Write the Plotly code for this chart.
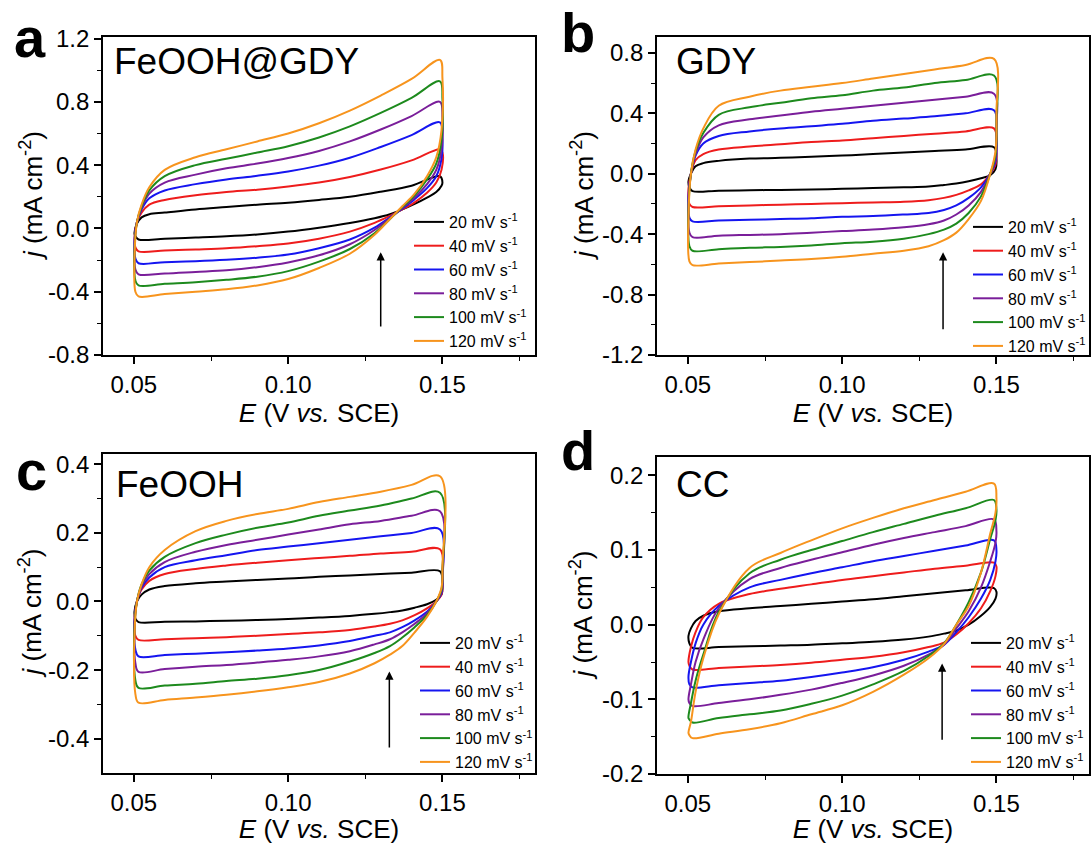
import plotly.graph_objects as go

FONT = "Liberation Sans, Arial, sans-serif"
W, H = 1091, 844

# ---------------- data ----------------
rates = ["20 mV s<sup>-1</sup>", "40 mV s<sup>-1</sup>", "60 mV s<sup>-1</sup>",
         "80 mV s<sup>-1</sup>", "100 mV s<sup>-1</sup>", "120 mV s<sup>-1</sup>"]
colors = ["#000000", "#ee1c1c", "#1515f0", "#7a1e9a", "#1d8a1d", "#f7941d"]

# potentials of the anodic (forward) and cathodic (reverse) sweeps, V vs. SCE
E_fwd = [0.0502, 0.0510, 0.0525, 0.055, 0.060, 0.070, 0.080, 0.090, 0.100,
         0.110, 0.120, 0.130, 0.140, 0.1492]
E_rev = [0.1500, 0.1497, 0.148, 0.145, 0.141, 0.137, 0.133, 0.128, 0.120,
         0.110, 0.100, 0.090, 0.080, 0.070, 0.060, 0.0515, 0.0505]

# (a) FeOOH@GDY, mA cm-2, one row per scan rate (20 ... 120 mV s-1)
fegdy_fwd = [
    [-0.03, 0.03, 0.07, 0.09, 0.10, 0.12, 0.135, 0.15, 0.163, 0.18, 0.20, 0.232, 0.27, 0.33],
    [-0.06, 0.04, 0.10, 0.15, 0.18, 0.21, 0.23, 0.245, 0.265, 0.29, 0.325, 0.372, 0.43, 0.50],
    [-0.09, 0.04, 0.12, 0.19, 0.24, 0.28, 0.31, 0.333, 0.36, 0.397, 0.447, 0.515, 0.59, 0.67],
    [-0.12, 0.04, 0.13, 0.22, 0.29, 0.34, 0.38, 0.41, 0.445, 0.49, 0.55, 0.625, 0.71, 0.80],
    [-0.15, 0.04, 0.14, 0.24, 0.33, 0.40, 0.44, 0.48, 0.52, 0.575, 0.645, 0.73, 0.825, 0.93],
    [-0.20, 0.04, 0.15, 0.26, 0.37, 0.45, 0.50, 0.55, 0.60, 0.665, 0.745, 0.84, 0.945, 1.065],
]
fegdy_rev = [
    [0.29, 0.27, 0.23, 0.195, 0.155, 0.12, 0.09, 0.065, 0.035, 0.005, -0.02, -0.038, -0.05, -0.058, -0.065, -0.07, -0.05],
    [0.48, 0.37, 0.29, 0.225, 0.165, 0.12, 0.08, 0.035, -0.02, -0.065, -0.095, -0.112, -0.125, -0.133, -0.14, -0.145, -0.12],
    [0.57, 0.44, 0.33, 0.255, 0.185, 0.125, 0.07, 0.005, -0.07, -0.125, -0.165, -0.185, -0.198, -0.207, -0.213, -0.22, -0.19],
    [0.70, 0.50, 0.37, 0.28, 0.195, 0.13, 0.065, -0.01, -0.10, -0.17, -0.215, -0.245, -0.265, -0.275, -0.285, -0.29, -0.26],
    [0.82, 0.56, 0.41, 0.31, 0.21, 0.135, 0.06, -0.03, -0.13, -0.21, -0.27, -0.305, -0.325, -0.34, -0.35, -0.36, -0.33],
    [0.95, 0.62, 0.45, 0.33, 0.22, 0.14, 0.06, -0.04, -0.16, -0.25, -0.32, -0.36, -0.385, -0.40, -0.415, -0.43, -0.40],
]

# (b) GDY
gdy_fwd = [
    [-0.05, 0.0, 0.05, 0.07, 0.085, 0.10, 0.105, 0.113, 0.12, 0.13, 0.14, 0.15, 0.16, 0.175],
    [-0.10, 0.0, 0.09, 0.13, 0.16, 0.18, 0.195, 0.21, 0.22, 0.235, 0.25, 0.265, 0.28, 0.30],
    [-0.15, 0.0, 0.12, 0.20, 0.25, 0.28, 0.30, 0.315, 0.33, 0.35, 0.365, 0.38, 0.40, 0.42],
    [-0.20, 0.0, 0.13, 0.24, 0.32, 0.36, 0.385, 0.41, 0.43, 0.45, 0.47, 0.49, 0.51, 0.53],
    [-0.25, 0.0, 0.15, 0.27, 0.39, 0.44, 0.47, 0.50, 0.52, 0.55, 0.57, 0.60, 0.62, 0.65],
    [-0.30, 0.0, 0.16, 0.30, 0.45, 0.51, 0.55, 0.575, 0.60, 0.63, 0.66, 0.69, 0.72, 0.76],
]
gdy_rev = [
    [0.10, 0.03, -0.01, -0.03, -0.05, -0.065, -0.075, -0.085, -0.09, -0.095, -0.10, -0.105, -0.107, -0.11, -0.112, -0.115, -0.09],
    [0.18, 0.06, 0.0, -0.07, -0.11, -0.14, -0.16, -0.175, -0.185, -0.19, -0.195, -0.20, -0.205, -0.21, -0.215, -0.22, -0.20],
    [0.25, 0.08, 0.0, -0.09, -0.16, -0.21, -0.24, -0.26, -0.27, -0.28, -0.285, -0.295, -0.30, -0.305, -0.31, -0.315, -0.29],
    [0.30, 0.10, 0.0, -0.12, -0.21, -0.27, -0.31, -0.335, -0.355, -0.37, -0.38, -0.39, -0.40, -0.405, -0.41, -0.42, -0.39],
    [0.35, 0.12, 0.0, -0.15, -0.26, -0.33, -0.37, -0.40, -0.43, -0.45, -0.46, -0.475, -0.485, -0.49, -0.50, -0.51, -0.48],
    [0.40, 0.15, 0.0, -0.18, -0.30, -0.39, -0.44, -0.48, -0.51, -0.53, -0.55, -0.565, -0.575, -0.585, -0.595, -0.605, -0.58],
]

# (c) FeOOH
feooh_fwd = [
    [-0.03, 0.0, 0.02, 0.035, 0.045, 0.053, 0.058, 0.063, 0.067, 0.072, 0.076, 0.08, 0.084, 0.088],
    [-0.05, 0.0, 0.035, 0.06, 0.08, 0.095, 0.105, 0.113, 0.12, 0.127, 0.133, 0.14, 0.145, 0.152],
    [-0.06, 0.0, 0.04, 0.07, 0.10, 0.12, 0.135, 0.15, 0.16, 0.17, 0.18, 0.19, 0.20, 0.21],
    [-0.07, 0.0, 0.045, 0.08, 0.115, 0.145, 0.165, 0.18, 0.195, 0.21, 0.225, 0.235, 0.25, 0.263],
    [-0.08, 0.0, 0.05, 0.09, 0.13, 0.17, 0.195, 0.215, 0.23, 0.25, 0.265, 0.28, 0.30, 0.317],
    [-0.10, 0.0, 0.05, 0.10, 0.15, 0.205, 0.235, 0.255, 0.27, 0.29, 0.305, 0.32, 0.34, 0.365],
]
feooh_rev = [
    [0.05, 0.02, 0.005, -0.008, -0.018, -0.026, -0.031, -0.036, -0.042, -0.047, -0.051, -0.054, -0.056, -0.058, -0.059, -0.06, -0.05],
    [0.06, 0.02, 0.0, -0.02, -0.04, -0.055, -0.065, -0.073, -0.083, -0.09, -0.095, -0.10, -0.104, -0.107, -0.11, -0.112, -0.10],
    [0.07, 0.025, 0.0, -0.03, -0.055, -0.075, -0.09, -0.10, -0.115, -0.128, -0.137, -0.143, -0.148, -0.152, -0.156, -0.16, -0.14],
    [0.08, 0.03, 0.0, -0.035, -0.065, -0.09, -0.11, -0.125, -0.145, -0.16, -0.17, -0.178, -0.185, -0.19, -0.197, -0.205, -0.18],
    [0.09, 0.035, 0.0, -0.04, -0.075, -0.105, -0.13, -0.15, -0.175, -0.20, -0.215, -0.225, -0.232, -0.24, -0.245, -0.252, -0.23],
    [0.10, 0.04, 0.0, -0.045, -0.09, -0.13, -0.155, -0.18, -0.21, -0.235, -0.25, -0.262, -0.272, -0.28, -0.287, -0.295, -0.27],
]

# (d) CC
cc_fwd = [
    [-0.015, -0.005, 0.005, 0.012, 0.018, 0.022, 0.025, 0.028, 0.031, 0.034, 0.038, 0.042, 0.046, 0.049],
    [-0.05, -0.03, -0.01, 0.01, 0.028, 0.041, 0.048, 0.054, 0.06, 0.065, 0.07, 0.075, 0.079, 0.083],
    [-0.07, -0.05, -0.025, 0.0, 0.025, 0.05, 0.06, 0.069, 0.077, 0.085, 0.092, 0.099, 0.106, 0.113],
    [-0.10, -0.08, -0.05, -0.02, 0.022, 0.061, 0.076, 0.087, 0.097, 0.107, 0.116, 0.124, 0.132, 0.141],
    [-0.125, -0.105, -0.075, -0.04, 0.017, 0.069, 0.087, 0.10, 0.112, 0.124, 0.135, 0.146, 0.156, 0.167],
    [-0.145, -0.13, -0.09, -0.045, 0.014, 0.076, 0.096, 0.113, 0.129, 0.143, 0.156, 0.167, 0.178, 0.189],
]
cc_rev = [
    [0.044, 0.035, 0.024, 0.012, 0.0, -0.008, -0.012, -0.016, -0.02, -0.023, -0.025, -0.027, -0.028, -0.029, -0.030, -0.031, -0.025],
    [0.078, 0.065, 0.045, 0.022, 0.002, -0.013, -0.024, -0.03, -0.037, -0.043, -0.047, -0.051, -0.054, -0.056, -0.058, -0.06, -0.055],
    [0.10, 0.085, 0.06, 0.035, 0.01, -0.01, -0.027, -0.036, -0.047, -0.057, -0.064, -0.07, -0.075, -0.078, -0.081, -0.084, -0.08],
    [0.125, 0.11, 0.085, 0.05, 0.018, -0.005, -0.027, -0.04, -0.055, -0.068, -0.078, -0.087, -0.094, -0.10, -0.105, -0.109, -0.105],
    [0.155, 0.14, 0.115, 0.07, 0.03, 0.0, -0.025, -0.042, -0.062, -0.08, -0.095, -0.106, -0.115, -0.12, -0.125, -0.131, -0.127],
    [0.17, 0.15, 0.122, 0.07, 0.025, 0.0, -0.026, -0.045, -0.067, -0.09, -0.108, -0.12, -0.132, -0.14, -0.146, -0.152, -0.148],
]

# axis ticks
x_ticks = [0.05, 0.10, 0.15]
x_ticktext = ["0.05", "0.10", "0.15"]
x_minor = [0.075, 0.125, 0.175]

a_yticks = [-0.8, -0.4, 0.0, 0.4, 0.8, 1.2]
a_ytext = ["-0.8", "-0.4", "0.0", "0.4", "0.8", "1.2"]
a_yminor = [-0.6, -0.2, 0.2, 0.6, 1.0]
b_yticks = [-1.2, -0.8, -0.4, 0.0, 0.4, 0.8]
b_ytext = ["-1.2", "-0.8", "-0.4", "0.0", "0.4", "0.8"]
b_yminor = [-1.0, -0.6, -0.2, 0.2, 0.6]
c_yticks = [-0.4, -0.2, 0.0, 0.2, 0.4]
c_ytext = ["-0.4", "-0.2", "0.0", "0.2", "0.4"]
c_yminor = [-0.3, -0.1, 0.1, 0.3]
d_yticks = [-0.2, -0.1, 0.0, 0.1, 0.2]
d_ytext = ["-0.2", "-0.1", "0.0", "0.1", "0.2"]
d_yminor = [-0.15, -0.05, 0.05, 0.15]

# ---------------- layout helpers ----------------
def px_x(p):
    return p / W

def px_y(p):
    return 1 - p / H

panels = [
    dict(key="", letter="a", name="FeOOH@GDY", fwd=fegdy_fwd, rev=fegdy_rev,
         xd=(103, 535), yd=(355, 37), yr=[-0.8, 1.21], yt=a_yticks, ytt=a_ytext, ym=a_yminor,
         arrow=(0.130, -0.63, -0.15), leg=(409, 205), letpos=(30, 37), namepos=(112, 61), ytitle_x=31),
    dict(key="2", letter="b", name="GDY", fwd=gdy_fwd, rev=gdy_rev,
         xd=(657, 1089), yd=(355, 37), yr=[-1.2, 0.905], yt=b_yticks, ytt=b_ytext, ym=b_yminor,
         arrow=(0.1327, -1.04, -0.52), leg=(968, 210), letpos=(578, 33), namepos=(674, 61), ytitle_x=582),
    dict(key="3", letter="c", name="FeOOH", fwd=feooh_fwd, rev=feooh_rev,
         xd=(103, 535), yd=(773, 454), yr=[-0.5, 0.43], yt=c_yticks, ytt=c_ytext, ym=c_yminor,
         arrow=(0.1328, -0.43, -0.204), leg=(415, 626), letpos=(31, 470), namepos=(114, 485), ytitle_x=31),
    dict(key="4", letter="d", name="CC", fwd=cc_fwd, rev=cc_rev,
         xd=(657, 1089), yd=(774, 457), yr=[-0.2, 0.2246], yt=d_yticks, ytt=d_ytext, ym=d_yminor,
         arrow=(0.1324, -0.156, -0.052), leg=(966, 626), letpos=(578, 450), namepos=(674, 485), ytitle_x=582),
]

fig = go.Figure()
annotations = []
layout = dict(
    width=W, height=H, margin=dict(l=0, r=0, t=0, b=0, autoexpand=False),
    paper_bgcolor="white", plot_bgcolor="white",
    font=dict(family=FONT, color="black"),
    showlegend=True,
)

for i, p in enumerate(panels):
    k = p["key"]
    xa, ya = "x" + k, "y" + k
    leg_id = "legend" + k
    for r in range(6):
        xs = E_fwd + E_rev + [E_fwd[0]]
        ys = p["fwd"][r] + p["rev"][r] + [p["fwd"][r][0]]
        fig.add_trace(go.Scatter(
            x=xs, y=ys, mode="lines", name=rates[r],
            line=dict(color=colors[r], width=2, shape="spline", smoothing=1.0),
            xaxis=xa, yaxis=ya, legend=leg_id, legendgroup=p["letter"] + str(r),
            showlegend=True, hoverinfo="skip",
        ))
    axis_common = dict(showline=True, linewidth=1.8, linecolor="black", mirror=True,
                       ticks="outside", ticklen=7, tickwidth=1.6, tickcolor="black",
                       showgrid=False, zeroline=False, automargin=False,
                       tickfont=dict(family=FONT, size=24, color="black"))
    layout["xaxis" + k] = dict(
        axis_common, domain=[px_x(p["xd"][0]), px_x(p["xd"][1])], range=[0.04, 0.18],
        anchor=ya, tickvals=x_ticks, ticktext=x_ticktext,
        minor=dict(tickvals=x_minor, ticklen=4, tickwidth=1.4, ticks="outside", tickcolor="black"),
        title=dict(text="<i>E</i> (V <i>vs.</i> SCE)", font=dict(family=FONT, size=26), standoff=0),
    )
    layout["yaxis" + k] = dict(
        axis_common, domain=[px_y(p["yd"][0]), px_y(p["yd"][1])], range=p["yr"],
        anchor=xa, tickvals=p["yt"], ticktext=p["ytt"],
        minor=dict(tickvals=p["ym"], ticklen=4, tickwidth=1.4, ticks="outside", tickcolor="black"),
    )
    layout[leg_id] = dict(
        x=px_x(p["leg"][0]), y=px_y(p["leg"][1]), xanchor="left", yanchor="top",
        bgcolor="rgba(0,0,0,0)", borderwidth=0, traceorder="grouped", tracegroupgap=0,
        font=dict(family=FONT, size=16, color="black"), itemwidth=30,
    )
    # y-axis title
    annotations.append(dict(
        x=px_x(p["ytitle_x"]), y=px_y((p["yd"][0] + p["yd"][1]) / 2), xref="paper", yref="paper",
        text="<i>j</i> (mA cm<sup>-2</sup>)", textangle=-90, showarrow=False,
        xanchor="center", yanchor="middle", font=dict(family=FONT, size=26, color="black"),
    ))
    # arrow
    ax_, y0, y1 = p["arrow"]
    annotations.append(dict(
        x=ax_, y=y1, ax=ax_, ay=y0, xref=xa, yref=ya, axref=xa, ayref=ya,
        text="", showarrow=True, arrowhead=2, arrowsize=1.1, arrowwidth=1.5, arrowcolor="black",
    ))
    # panel letter
    annotations.append(dict(
        x=px_x(p["letpos"][0]), y=px_y(p["letpos"][1]), xref="paper", yref="paper",
        text="<b>%s</b>" % p["letter"], showarrow=False, xanchor="center", yanchor="middle",
        font=dict(family=FONT, size=56, color="black"),
    ))
    # sample name
    annotations.append(dict(
        x=px_x(p["namepos"][0]), y=px_y(p["namepos"][1]), xref="paper", yref="paper",
        text=p["name"], showarrow=False, xanchor="left", yanchor="middle",
        font=dict(family=FONT, size=37, color="black"),
    ))

layout["annotations"] = annotations
fig.update_layout(**layout)
fig.write_html("out.html", config={"displayModeBar": False},
               post_script="document.body.style.margin='0';")
